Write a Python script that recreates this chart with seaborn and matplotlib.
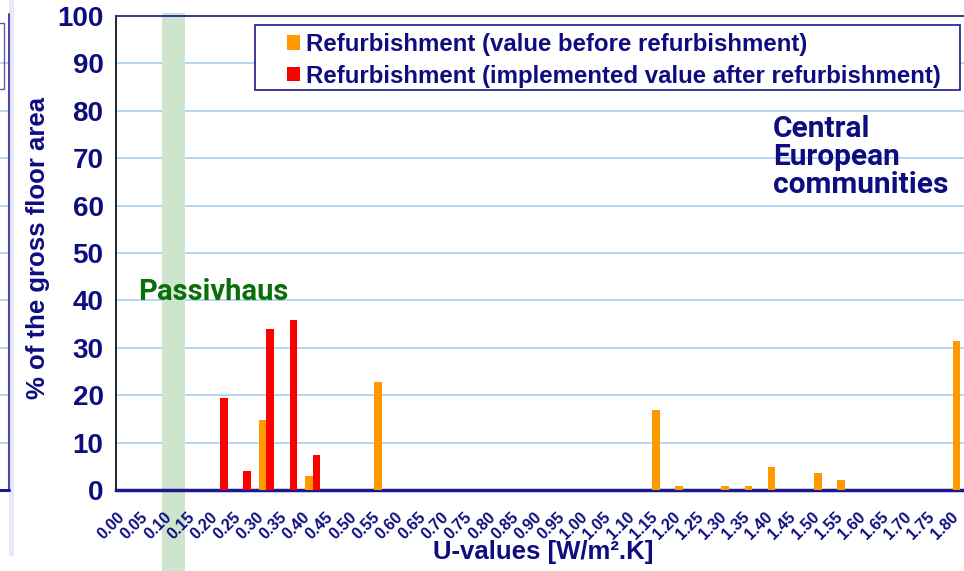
import numpy as np
import pandas as pd
import matplotlib
matplotlib.use("Agg")
import matplotlib.pyplot as plt
import seaborn as sns
from matplotlib.patches import Rectangle, Patch
from matplotlib.lines import Line2D
from matplotlib.font_manager import FontProperties
from matplotlib.transforms import blended_transform_factory, ScaledTranslation

# ---------------- data ----------------
u_labels = ["0.00", "0.05", "0.10", "0.15", "0.20", "0.25", "0.30", "0.35", "0.40",
            "0.45", "0.50", "0.55", "0.60", "0.65", "0.70", "0.75", "0.80", "0.85",
            "0.90", "0.95", "1.00", "1.05", "1.10", "1.15", "1.20", "1.25", "1.30",
            "1.35", "1.40", "1.45", "1.50", "1.55", "1.60", "1.65", "1.70", "1.75",
            "1.80"]
before = [0, 0, 0, 0, 0, 0, 14.8, 0, 3.0, 0, 0, 22.7, 0, 0, 0, 0, 0, 0,
          0, 0, 0, 0, 0, 16.9, 0.8, 0, 0.8, 0.9, 4.9, 0, 3.6, 2.1, 0, 0, 0, 0,
          31.5]
after = [0, 0, 0, 0, 19.5, 4.0, 34.0, 35.8, 7.4, 0, 0, 0, 0, 0, 0, 0, 0, 0,
         0, 0, 0, 0, 0, 0, 0, 0, 0, 0, 0, 0, 0, 0, 0, 0, 0, 0,
         0]
series_names = ["Refurbishment (value before refurbishment)",
                "Refurbishment (implemented value after refurbishment)"]
series_colors = ["#FF9900", "#FF0000"]
y_ticks = [0, 10, 20, 30, 40, 50, 60, 70, 80, 90, 100]
passivhaus_category = "0.10"

df = pd.DataFrame({
    "U": u_labels + u_labels,
    "pct": before + after,
    "series": [series_names[0]] * len(u_labels) + [series_names[1]] * len(u_labels),
})

# ---------------- style ----------------
sns.set_style("white")
plt.rcParams["font.family"] = ["Liberation Sans", "DejaVu Sans"]
NAVY = "#0d0d80"
GRID = "#a8cff2"

W, H = 964, 571
fig = plt.figure(figsize=(W / 100, H / 100), dpi=100)
ax = fig.add_axes([116 / W, (H - 490) / H, 856 / W, 474 / H])

sns.barplot(data=df, x="U", y="pct", hue="series", order=u_labels,
            hue_order=series_names, palette=series_colors, width=0.66,
            saturation=1, errorbar=None, linewidth=0, legend=False,
            ax=ax, zorder=3)

n = len(u_labels)
ax.set_xlim(-0.5, n - 0.5)
ax.set_ylim(0, 100)
ax.set_axisbelow(False)

# manual gridlines (below the Passivhaus band)
for v in y_ticks[1:-1]:
    ax.axhline(v, color=GRID, lw=1.2, zorder=0.5)

# Passivhaus band
pi = u_labels.index(passivhaus_category)
ax.axvspan(pi - 0.5, pi + 0.5, ymin=-0.2, ymax=1.006, color="#cde5cd",
           lw=0, zorder=1, clip_on=False)

# y axis
ax.set_yticks(y_ticks)
ax.set_yticklabels([str(v) for v in y_ticks], fontsize=20, fontweight="bold",
                   color=NAVY)
ax.tick_params(axis="y", length=8, width=1, color="#333333", pad=1)

# x axis: labels at category centres, tick marks at category boundaries
ax.set_xticks(np.arange(n))
ax.set_xticklabels(u_labels, rotation=45, ha="right", va="center",
                   rotation_mode="anchor", fontsize=11.5, fontweight="bold",
                   color=NAVY)
ax.tick_params(axis="x", which="major", length=0, pad=18)
shift = ScaledTranslation(-5 / 100, 0, fig.dpi_scale_trans)
for lbl in ax.get_xticklabels():
    lbl.set_transform(lbl.get_transform() + shift)
ax.set_xticks(np.arange(n) - 0.5, minor=True)
ax.tick_params(axis="x", which="minor", length=6, width=1.2, color="#3a3a9a")

for s in ["left", "right", "top", "bottom"]:
    ax.spines[s].set_visible(False)
ax.spines["left"].set_visible(True)
ax.spines["left"].set_color("black")
ax.spines["left"].set_linewidth(1.2)
ax.spines["bottom"].set_visible(True)
ax.spines["bottom"].set_color("#1a1a8c")
ax.spines["bottom"].set_linewidth(2.5)
ax.spines["top"].set_visible(True)
ax.spines["top"].set_color("#2a2a90")
ax.spines["top"].set_linewidth(1.3)

ax.set_ylabel("% of the gross floor area", fontsize=18.5, fontweight="bold",
              color=NAVY)
ax.yaxis.set_label_coords(-0.077, 0.51)
ax.set_xlabel("U-values [W/m².K]", fontsize=18.5, fontweight="bold", color=NAVY)
ax.xaxis.set_label_coords(0.4988, -0.1055)

# legend with frame drawn as figure rectangle
frame = Rectangle((255 / W, 1 - 90 / H), (960 - 255) / W, 65 / H,
                  transform=fig.transFigure, facecolor="white",
                  edgecolor="#1a1a8c", lw=1.2, zorder=4)
fig.patches.append(frame)
handles = [Patch(facecolor=c, edgecolor="none") for c in series_colors]
leg = fig.legend(handles, series_names, loc="upper left",
                 bbox_to_anchor=(287 / W, 1 - 33 / H), frameon=False,
                 prop=FontProperties(family=["Liberation Sans", "DejaVu Sans"],
                                     weight="bold", size=17.3),
                 handlelength=0.55, handleheight=0.55, handletextpad=0.25,
                 labelspacing=0.36, borderpad=0.0, borderaxespad=0.0)
for t in leg.get_texts():
    t.set_color(NAVY)
    t.set_fontweight("bold")
leg.set_zorder(5)

# annotations
fig.text(773 / W, 1 - 115 / H, "Central\nEuropean\ncommunities",
         fontsize=21.5, fontweight="bold", color=NAVY, ha="left", va="top",
         linespacing=1.0, family=["Roboto", "DejaVu Sans"])
fig.text(138 / W, 1 - 300 / H, "Passivhaus", fontsize=21, fontweight="bold",
         color="#0a6e0a", ha="left", va="baseline",
         family=["Roboto", "DejaVu Sans"], zorder=6)

# remnants of the neighbouring chart at the left edge
fig.patches.append(Rectangle((9 / W, 1 - 556 / H), 4.5 / W, 556 / H,
                             transform=fig.transFigure, facecolor="#ece6fa",
                             edgecolor="none", zorder=0.5))
trans = blended_transform_factory(fig.transFigure, ax.transData)
for v in y_ticks[1:-1]:
    fig.lines.append(Line2D([0, 9 / W], [v, v], transform=trans, color=GRID,
                            lw=1.2))
fig.lines.append(Line2D([9 / W, 9 / W], [1 - 14 / H, 1 - 491 / H],
                        transform=fig.transFigure, color="#4a4aa0", lw=1.5))
fig.lines.append(Line2D([0, 9 / W], [1 - 490 / H, 1 - 490 / H],
                        transform=fig.transFigure, color="#1a1a8c", lw=2.2))
fig.lines.append(Line2D([0, 4 / W, 4 / W, 0], [1 - 23 / H, 1 - 23 / H,
                                               1 - 89 / H, 1 - 89 / H],
                        transform=fig.transFigure, color="#5a5aa8", lw=1))

fig.savefig("out.png", dpi=100)
